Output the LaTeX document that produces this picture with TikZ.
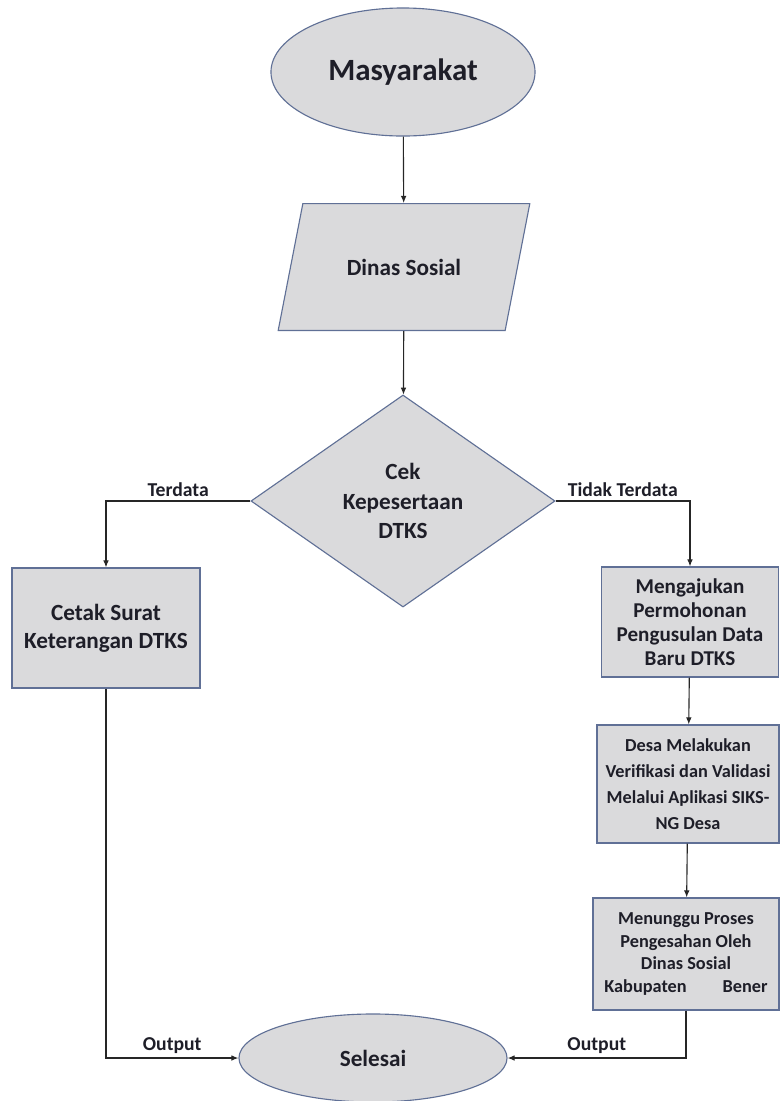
\documentclass[tikz,border=0pt]{standalone}
\usepackage{fontspec}
\setmainfont{Carlito}
\usetikzlibrary{shapes.geometric,arrows.meta}
\definecolor{shapeline}{RGB}{96,112,150}
\definecolor{shapefill}{RGB}{218,218,220}
\definecolor{textdark}{RGB}{30,30,40}
\begin{document}
\begin{tikzpicture}[x=0.025cm,y=-0.025cm,
term/.style ={ellipse, draw=shapeline, fill=shapefill, thick,
  text=textdark, inner sep=0pt
},
io/.style ={trapezium, trapezium left angle=79, trapezium right angle=101,
  draw=shapeline, fill=shapefill, thick,
  text=textdark, inner xsep=1.1cm, inner ysep=1.38cm,
  font=\bfseries\fontsize{16.5}{20}\selectfont
},
decide/.style ={diamond, draw=shapeline, fill=shapefill, thick,
  text=textdark, align=center, inner sep=0pt,
  minimum width=7.6cm, minimum height=5.3cm,
  font=\bfseries\fontsize{16.5}{21}\selectfont
},
block/.style ={rectangle, draw=shapeline, fill=shapefill, thick,
  text=textdark, align=center, inner sep=2pt
},
arrow/.style ={draw=black!85, line width=0.8pt, -{Latex[length=5pt,width=4pt]}},
lbl/.style ={text=textdark, font=\bfseries\fontsize{14}{16}\selectfont, inner sep=3pt}
]
\useasboundingbox (0,0) rectangle (779,1101);

\node (mas) at (403,72) [term, minimum width=6.6cm, minimum height=3.2cm,
  font=\bfseries\fontsize{22}{26}\selectfont] {Masyarakat};
\node (dinas) at (404,267) [io] {Dinas Sosial};
\node (cek) at (403,501) [decide] {Cek\\Kepesertaan\\DTKS};

\node (cetak) at (106,628) [block, minimum width=4.7cm, minimum height=3cm,
  font=\bfseries\fontsize{16.5}{20}\selectfont] {Cetak Surat\\Keterangan DTKS};

% jalur tidak terdata
\node (ajukan) at (690,622) [block, minimum width=4.42cm, minimum height=2.75cm,
  font=\bfseries\fontsize{15}{17}\selectfont]
  {Mengajukan\\Permohonan\\Pengusulan Data\\Baru DTKS};
\node (verif) at (688,784) [block, minimum width=4.55cm, minimum height=2.95cm,
  font=\bfseries\fontsize{13}{18.5}\selectfont]
  {Desa Melakukan\\Verifikasi dan Validasi\\Melalui Aplikasi SIKS-\\NG Desa};
\node (tunggu) at (686,954) [block, minimum width=4.65cm, minimum height=2.8cm,
  font=\bfseries\fontsize{13}{16}\selectfont]
  {Menunggu Proses\\Pengesahan Oleh\\Dinas Sosial\\Kabupaten\hspace{0.9cm}Bener};

\node (selesai) at (373,1058) [term, minimum width=6.7cm, minimum height=2.2cm,
  font=\bfseries\fontsize{16.5}{20}\selectfont] {Selesai};

\draw[arrow] (mas) -- (dinas);
\draw[arrow] (dinas) -- (cek);
\draw[arrow] (cek.west) -| node[lbl, above, pos=0.25] {Terdata} (cetak.north);
\draw[arrow] (cek.east) -| node[lbl, above, pos=0.25] {Tidak Terdata} (ajukan.north);
\draw[arrow] (ajukan) -- (verif);
\draw[arrow] (verif) -- (tunggu);
\draw[arrow] (cetak.south) |- node[lbl, above, pos=0.75] {Output} (selesai.west);
\draw[arrow] (tunggu.south) |- node[lbl, above, pos=0.75] {Output} (selesai.east);
\end{tikzpicture}
\end{document}
